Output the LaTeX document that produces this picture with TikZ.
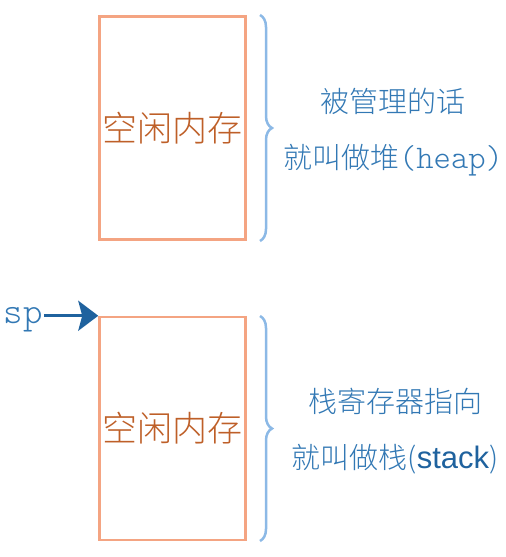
\documentclass[tikz,border=0pt]{standalone}
\usepackage{fontspec}
\newfontfamily\codefont{Latin Modern Mono Light}
\newfontfamily\latinsans{Liberation Sans}
\newfontfamily\cjk{Noto Sans CJK SC Light}
\usetikzlibrary{decorations.pathreplacing,arrows.meta,positioning}
\definecolor{boxline}{RGB}{244,164,130}
\definecolor{memtext}{RGB}{190,95,40}
\definecolor{bracecol}{RGB}{140,185,230}
\definecolor{notetext}{RGB}{50,120,180}
\definecolor{spblue}{RGB}{31,98,158}

\begin{document}
\begin{tikzpicture}[x=1pt,y=-1pt,
    membox/.style={draw=boxline, line width=2.5pt, minimum width=146pt, minimum height=223pt, inner sep=0pt, text=memtext, font=\cjk\fontsize{35}{40}\selectfont},
    note/.style={align=center, text=notetext, font=\cjk\fontsize{29}{56}\selectfont},
    membrace/.style={draw=bracecol, line width=2.5pt, decorate, decoration={brace, amplitude=12pt}}
  ]
  \useasboundingbox (0,0) rectangle (506,557);
  % two blocks of free memory
  \node[membox] (heap) at (172.5,128) {空闲内存};
  \node[membox] (stack) at (172.5,428.5) {空闲内存};
  % braces on the right
  \coordinate (heaptop) at (260,15);
  \coordinate (heapbot) at (260,241);
  \coordinate (stacktop) at (260,316);
  \coordinate (stackbot) at (260,541);
  \draw[membrace] (heaptop) -- (heapbot);
  \draw[membrace] (stacktop) -- (stackbot);
  % notes
  \node[note] (heapnote) at (393,132) {被管理的话\\就叫做堆{\codefont\fontsize{33}{56}\selectfont(heap)}};
  \node[note] (stacknote) at (395,431) {栈寄存器指向\\就叫做栈({\latinsans\fontsize{31}{56}\selectfont\textcolor{spblue}{stack}})};
  % stack pointer
  \node[anchor=east, inner sep=1pt, text=notetext, font=\codefont\fontsize{37}{37}\selectfont] (sp) at (44,320) {sp};
  \draw[spblue, line width=3pt, -{Stealth[length=20pt, width=30pt, inset=4pt]}] (sp.east |- stack.north west) -- (stack.north west);
\end{tikzpicture}
\end{document}
